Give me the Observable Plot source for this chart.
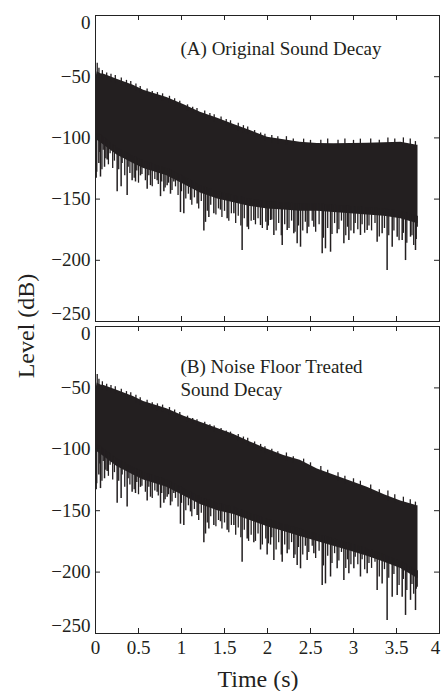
<!DOCTYPE html>
<html><head><meta charset="utf-8">
<script src="https://cdn.jsdelivr.net/npm/d3@7"></script>
<script src="https://cdn.jsdelivr.net/npm/@observablehq/plot@0.6"></script>
<style>
body{margin:0;background:#fff}
#chart{position:relative;width:442px;height:691px;background:#fff}
#chart svg{position:absolute;left:0;top:0}
</style>
</head><body><div id="chart"></div>
<script>
// ---- data ----
const xTicks = [0, 0.5, 1, 1.5, 2, 2.5, 3, 3.5, 4];
const yTicks = [0, -50, -100, -150, -200, -250];

// envelope sample times (s)
const envTime = [0, 0.02, 0.06, 0.1, 0.25, 0.44, 0.56, 0.83, 1.03, 1.22, 1.42, 1.61, 1.8, 2.0, 2.19, 2.38, 2.58, 2.77, 2.97, 3.16, 3.36, 3.55, 3.74, 3.75];
// (A) original decay: top and bottom of the dense body (dB)
const upperA = [-53, -46, -47.6, -48, -52, -57, -61, -67, -73, -79, -84, -89, -94, -99.4, -101.5, -103.5, -104.5, -104.8, -104.5, -104.3, -104, -103.5, -106, -106];
const lowerA = [-105, -102, -104, -106, -114, -121, -125, -131, -138, -145, -150, -153, -156, -158, -159, -160, -160, -161, -162, -163, -164, -166, -170, -170];
// (B) noise floor treated
const upperB = [-53, -46, -47.6, -48, -52, -57, -61, -67, -73, -78, -83, -88, -94, -100, -105, -109, -116, -121, -126, -131, -137, -142, -146, -146];
const lowerB = [-105, -102, -104, -106, -114, -121, -125, -131, -138, -145, -150, -153, -158, -163, -167, -171, -175, -179, -183, -187, -192, -197, -205, -205];

// deep downward spikes (dips)
const dipTimeEarly = [0.008, 0.039, 0.058, 0.105, 0.136, 0.252, 0.298, 0.368, 0.426, 0.465, 0.523, 0.601, 0.640, 0.717, 0.756, 0.795, 0.833, 0.872, 0.911, 0.988, 1.027, 1.105, 1.182, 1.260, 1.279, 1.318, 1.376, 1.453, 1.531, 1.609, 1.705, 1.764];
const dipLevelEarly = [-133, -121, -132, -124, -118, -144, -140, -147, -135, -136, -131, -142, -139, -135, -148, -144, -139, -146, -136, -161, -162, -151, -154, -176, -169, -165, -162, -159, -166, -162, -192, -173];
const dipTimeLate = [1.841, 1.919, 1.996, 2.035, 2.074, 2.171, 2.229, 2.306, 2.345, 2.384, 2.461, 2.539, 2.636, 2.674, 2.733, 2.810, 2.888, 2.946, 3.004, 3.081, 3.159, 3.275, 3.333, 3.391, 3.450, 3.508, 3.566, 3.605, 3.663, 3.721, 3.740];
const dipLevelLateA = [-167.5, -171.6, -175.7, -167.5, -179.7, -187.9, -175.7, -178.4, -186.5, -189.3, -178.4, -172.9, -194.7, -190.6, -193.4, -178.4, -186.5, -183.8, -178.4, -179.7, -175.7, -185.2, -178.4, -208.3, -189.3, -181.1, -183.8, -200.2, -181.1, -192.0, -172.9];
const dipLevelLateB = [-176, -182, -186, -178, -190.6, -192, -185, -189, -194.6, -197.3, -190.6, -185, -211, -209.6, -204, -197.3, -206.8, -201.4, -197.3, -204, -201.4, -215, -209.6, -239.4, -220.4, -219, -220.4, -235.3, -223, -231.3, -212.3];

// shorter dips forming the comb under the dense body
const combTimeEarly = [0.015, 0.05, 0.075, 0.09, 0.12, 0.15, 0.17, 0.2, 0.22, 0.27, 0.31, 0.34, 0.38, 0.4, 0.45, 0.48, 0.5, 0.54, 0.58, 0.62, 0.66, 0.69, 0.73, 0.77, 0.81, 0.85, 0.89, 0.93, 0.96, 1.0, 1.05, 1.08, 1.12, 1.15, 1.2, 1.23, 1.3, 1.34, 1.4, 1.43, 1.47, 1.5, 1.55, 1.58, 1.63, 1.66, 1.69, 1.73, 1.78];
const combLevelEarly = [-128, -112, -126, -110, -117, -122, -113, -125, -119, -126, -121, -131, -124, -129, -133, -127, -137, -130, -135, -131, -140, -134, -138, -136, -141, -137, -143, -140, -147, -144, -150, -146, -155, -149, -158, -152, -160, -155, -163, -158, -165, -160, -168, -162, -170, -164, -172, -166, -175];
const combTimeLate = [1.81, 1.86, 1.89, 1.94, 1.98, 2.01, 2.05, 2.1, 2.13, 2.16, 2.2, 2.25, 2.28, 2.32, 2.36, 2.41, 2.44, 2.48, 2.52, 2.56, 2.6, 2.65, 2.7, 2.75, 2.78, 2.83, 2.86, 2.91, 2.93, 2.97, 3.02, 3.05, 3.1, 3.13, 3.18, 3.21, 3.25, 3.3, 3.36, 3.41, 3.47, 3.53, 3.58, 3.62, 3.68, 3.7, 3.73];
const combLevelLateA = [-168, -171, -166, -174, -169, -172, -167, -176, -170, -180, -171, -174, -168, -177, -172, -176, -169, -173, -168, -177, -171, -182, -174, -179, -170, -175, -168, -180, -173, -176, -170, -175, -171, -178, -172, -176, -170, -181, -174, -180, -176, -184, -178, -186, -180, -188, -183];
const combLevelLateB = [-170, -175, -169, -178, -173, -177, -172, -182, -176, -186, -178, -182, -176, -186, -180, -186, -179, -184, -179, -189, -183, -195, -187, -193, -185, -191, -184, -197, -190, -194, -188, -194, -190, -198, -193, -197, -192, -204, -198, -205, -202, -211, -206, -215, -210, -218, -214];

// small upward peaks along the top edge
const peakTimeEarly = [0.02, 0.04, 0.08, 0.13, 0.18, 0.23, 0.3, 0.36, 0.41, 0.47, 0.52, 0.6, 0.66, 0.72, 0.78, 0.86, 0.92, 0.98, 1.07, 1.13, 1.18, 1.27, 1.33, 1.38, 1.46, 1.52, 1.57, 1.66, 1.72, 1.77];
const peakLevelEarly = [-39, -43, -45, -47, -48, -49, -51, -53, -54, -56, -58, -60, -62, -63, -64, -66, -68, -70, -73, -75, -76, -78, -80, -81, -83, -85, -86, -88, -90, -91];
const peakTimeLate = [1.85, 1.92, 1.97, 2.05, 2.12, 2.22, 2.3, 2.42, 2.5, 2.62, 2.7, 2.82, 2.9, 3.0, 3.08, 3.2, 3.3, 3.4, 3.48, 3.58, 3.66, 3.72];
const peakLevelLateA = [-94, -96, -97, -98, -99, -99, -101, -101, -102, -102, -101, -102, -101, -102, -101, -101, -102, -100, -101, -100, -101, -103];
const peakLevelLateB = [-94, -96, -98, -100, -102, -103, -106, -108, -111, -114, -117, -119, -122, -124, -126, -129, -133, -134, -137, -139, -141, -143];

const ink = "#231f20";
const font = "Liberation Serif, Times New Roman, serif";
const fmt = d => d < 0 ? "\u2212" + (-d) : String(d);

function panel({upper, lower, dipT, dipV, combT, combV, peakT, peakV, top, bottom, label, labelDy, last}) {
  const env = envTime.map((t, i) => ({t, hi: upper[i], lo: lower[i]}));
  const lo = d3.scaleLinear().domain(envTime).range(lower);
  const up = d3.scaleLinear().domain(envTime).range(upper);
  const dips = dipT.map((t, i) => ({t, v: dipV[i], base: lo(t) + 6}));
  const comb = combT.map((t, i) => ({t, v: combV[i], base: lo(t) + 6}));
  const peaks = peakT.map((t, i) => ({t, v: peakV[i], base: up(t) - 4}));
  const h = 691 - top - bottom;
  const marks = [
    Plot.areaY(env, {x: "t", y1: "lo", y2: "hi", fill: ink}),
    Plot.ruleX(comb, {x: "t", y1: "base", y2: "v", stroke: ink, strokeWidth: 1.3}),
    Plot.ruleX(dips, {x: "t", y1: "base", y2: "v", stroke: ink, strokeWidth: 1.5}),
    Plot.ruleX(peaks, {x: "t", y1: "base", y2: "v", stroke: ink, strokeWidth: 1.3}),
    Plot.frame({stroke: "#222", strokeWidth: 1}),
    Plot.tickX(xTicks, {x: d => d, insetTop: h - 5, stroke: "#222"}),
    Plot.tickX(xTicks, {x: d => d, insetBottom: h - 5, stroke: "#222"}),
    Plot.tickY(yTicks, {y: d => d, insetRight: 339, stroke: "#222"}),
    Plot.tickY(yTicks, {y: d => d, insetLeft: 339, stroke: "#222"}),
    Plot.text(yTicks.filter(d => d !== 0 && d !== -250), {y: d => d, text: fmt, frameAnchor: "left", dx: -5, textAnchor: "end", lineAnchor: "middle", fontSize: 19, fill: ink}),
    Plot.text([0], {y: d => d, text: fmt, frameAnchor: "left", dx: -5, dy: 7, textAnchor: "end", lineAnchor: "middle", fontSize: 19, fill: ink}),
    Plot.text([-250], {y: d => d, text: fmt, frameAnchor: "left", dx: -5, dy: -8, textAnchor: "end", lineAnchor: "middle", fontSize: 19, fill: ink}),
    Plot.text([label], {text: d => d, frameAnchor: "top-left", dx: 85, dy: labelDy, textAnchor: "start", lineAnchor: "bottom", lineHeight: 1.2, fontSize: 19, fill: ink})
  ];
  if (last) {
    marks.push(
      Plot.text(xTicks.slice(0, -1), {x: d => d, text: d => String(d), frameAnchor: "bottom", dy: 14, lineAnchor: "middle", fontSize: 19, fill: ink}),
      Plot.text(xTicks.slice(-1), {x: d => d, text: d => String(d), frameAnchor: "bottom", dx: -4, dy: 14, lineAnchor: "middle", fontSize: 19, fill: ink}),
      Plot.text(["Time (s)"], {text: d => d, frameAnchor: "bottom-left", dx: 162.5, dy: 53, textAnchor: "middle", lineAnchor: "bottom", fontSize: 24, fill: ink}),
      Plot.text(["Level (dB)"], {text: d => d, frameAnchor: "top-left", dx: -62, dy: -0.5, rotate: -90, textAnchor: "middle", lineAnchor: "bottom", fontSize: 24, fill: ink})
    );
  }
  return Plot.plot({
    width: 442, height: 691,
    marginLeft: 95, marginRight: 3, marginTop: top, marginBottom: bottom,
    style: {background: "transparent", fontFamily: font, overflow: "visible"},
    x: {domain: [0, 4], axis: null},
    y: {domain: [-250, 0], axis: null},
    marks
  });
}

const chart = document.getElementById("chart");
chart.append(panel({
  upper: upperA, lower: lowerA,
  dipT: dipTimeEarly.concat(dipTimeLate), dipV: dipLevelEarly.concat(dipLevelLateA),
  combT: combTimeEarly.concat(combTimeLate), combV: combLevelEarly.concat(combLevelLateA),
  peakT: peakTimeEarly.concat(peakTimeLate), peakV: peakLevelEarly.concat(peakLevelLateA),
  top: 15, bottom: 370, label: "(A) Original Sound Decay", labelDy: 39, last: false}));
chart.append(panel({
  upper: upperB, lower: lowerB,
  dipT: dipTimeEarly.concat(dipTimeLate), dipV: dipLevelEarly.concat(dipLevelLateB),
  combT: combTimeEarly.concat(combTimeLate), combV: combLevelEarly.concat(combLevelLateB),
  peakT: peakTimeEarly.concat(peakTimeLate), peakV: peakLevelEarly.concat(peakLevelLateB),
  top: 326, bottom: 58, label: "(B) Noise Floor Treated\nSound Decay", labelDy: 69, last: true}));
</script>
</body></html>
